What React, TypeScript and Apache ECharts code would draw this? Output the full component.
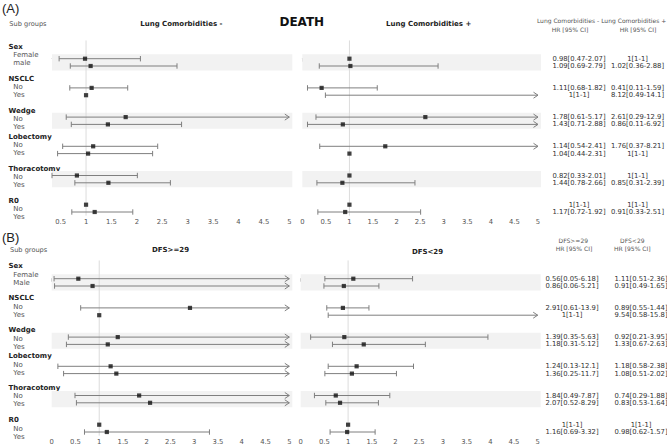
import React, { useEffect, useRef } from "react";
import * as echarts from "echarts";

// ---------- data ----------
const groups = ["Sex", "NSCLC", "Wedge", "Lobectomy", "Thoracotomy", "R0"];
const subLabelsA = ["Female", "male", "No", "Yes", "No", "Yes", "No", "Yes", "No", "Yes", "No", "Yes"];
const subLabelsB = ["Female", "Male", "No", "Yes", "No", "Yes", "No", "Yes", "No", "Yes", "No", "Yes"];
const shadedGroups = [0, 2, 4];

const lcMinusHR = [0.98, 1.09, 1.11, 1, 1.78, 1.43, 1.14, 1.04, 0.82, 1.44, 1, 1.17];
const lcMinusLo = [0.47, 0.69, 0.68, 1, 0.61, 0.71, 0.54, 0.44, 0.33, 0.78, 1, 0.72];
const lcMinusHi = [2.07, 2.79, 1.82, 1, 5.17, 2.88, 2.41, 2.31, 2.01, 2.66, 1, 1.92];

const lcPlusHR = [1, 1.02, 0.41, 8.12, 2.61, 0.86, 1.76, 1, 1, 0.85, 1, 0.91];
const lcPlusLo = [1, 0.36, 0.11, 0.49, 0.29, 0.11, 0.37, 1, 1, 0.31, 1, 0.33];
const lcPlusHi = [1, 2.88, 1.59, 14.1, 12.9, 6.92, 8.21, 1, 1, 2.39, 1, 2.51];

const dfsHighHR = [0.56, 0.86, 2.91, 1, 1.39, 1.18, 1.24, 1.36, 1.84, 2.07, 1, 1.16];
const dfsHighLo = [0.05, 0.06, 0.61, 1, 0.35, 0.31, 0.13, 0.25, 0.49, 0.52, 1, 0.69];
const dfsHighHi = [6.18, 5.21, 13.9, 1, 5.63, 5.12, 12.1, 11.7, 7.87, 8.29, 1, 3.32];

const dfsLowHR = [1.11, 0.91, 0.89, 9.54, 0.92, 1.33, 1.18, 1.08, 0.74, 0.83, 1, 0.98];
const dfsLowLo = [0.51, 0.49, 0.55, 0.58, 0.21, 0.67, 0.58, 0.51, 0.29, 0.53, 1, 0.62];
const dfsLowHi = [2.36, 1.65, 1.44, 15.8, 3.95, 2.63, 2.38, 2.02, 1.88, 1.64, 1, 1.57];

const tickValuesA = [0.5, 1, 1.5, 2, 2.5, 3, 3.5, 4, 4.5, 5];

// ---------- layout ----------
const FONT = "DejaVu Sans";
const X_MAX = 5;
const Y_MIN = -2.5;
const Y_MAX = 21.5;
const rowY = (i: number) => Math.floor(i / 2) * 4 + (i % 2);
const headerYA = [47, 79, 111, 137, 168.7, 201];
const panelBOffset = 219.4;

type Panel = {
  hr: number[]; lo: number[]; hi: number[];
  left: number; width: number; top: number; xMin: number;
  custom: boolean; colX: number;
};

const panels: Panel[] = [
  { hr: lcMinusHR, lo: lcMinusLo, hi: lcMinusHi, left: 52, width: 237.3, top: 40.45, xMin: 0.33, custom: true, colX: 579 },
  { hr: lcPlusHR, lo: lcPlusLo, hi: lcPlusHi, left: 302.3, width: 235.7, top: 40.45, xMin: 0, custom: false, colX: 637.5 },
  { hr: dfsHighHR, lo: dfsHighLo, hi: dfsHighHi, left: 51.7, width: 237.6, top: 260.45, xMin: 0, custom: false, colX: 572 },
  { hr: dfsLowHR, lo: dfsLowLo, hi: dfsLowHi, left: 300.7, width: 237, top: 260.45, xMin: 0, custom: false, colX: 641 },
];

const GRID_H = 175.2;
const LINE = "#7f7f7f";

function buildOption() {
  const grid = panels.map((p) => ({ left: p.left, top: p.top, width: p.width, height: GRID_H, outerBoundsMode: "none" }));
  const xAxis = panels.map((p, k) => {
    const ax: any = {
      type: "value", gridIndex: k, min: p.xMin, max: X_MAX,
      splitLine: { show: false },
      axisLine: { show: true, lineStyle: { color: "#c8c8c8", width: 1 } },
      axisTick: { show: true, length: 3, lineStyle: { color: "#c8c8c8" } },
      axisLabel: { fontSize: 6.8, color: "#555", margin: 3, fontFamily: FONT },
    };
    if (p.custom) {
      ax.axisLabel.customValues = tickValuesA;
      ax.axisTick.customValues = tickValuesA;
    } else {
      ax.interval = 0.5;
    }
    return ax;
  });
  const yAxis = panels.map((p, k) => ({ type: "value", gridIndex: k, min: Y_MIN, max: Y_MAX, inverse: true, show: false }));

  const series: any[] = [];
  panels.forEach((p, k) => {
    // shaded bands
    series.push({
      type: "custom", xAxisIndex: k, yAxisIndex: k, z: 1, silent: true,
      data: shadedGroups.map((g) => [p.xMin, g * 4]),
      encode: { x: 0, y: 1 },
      renderItem: (params: any, api: any) => {
        const v = api.value(1);
        const a = api.coord([p.xMin, v - 0.6]);
        const b = api.coord([X_MAX, v + 1.6]);
        return { type: "rect", shape: { x: a[0], y: a[1], width: b[0] + 3 - a[0], height: b[1] - a[1] }, style: { fill: "#f2f2f2" } };
      },
    });
    // reference line at 1
    series.push({
      type: "custom", xAxisIndex: k, yAxisIndex: k, z: 2, silent: true,
      data: [[1, Y_MIN]],
      encode: { x: 0, y: 1 },
      renderItem: (params: any, api: any) => {
        const a = api.coord([1, Y_MIN]);
        const b = api.coord([1, Y_MAX]);
        return { type: "line", shape: { x1: a[0], y1: a[1], x2: b[0], y2: b[1] }, style: { stroke: "#dcdcdc", lineWidth: 1 } };
      },
    });
    // CI bars
    series.push({
      type: "custom", xAxisIndex: k, yAxisIndex: k, z: 3, silent: true,
      data: p.lo.map((l, i) => [l, p.hi[i], rowY(i)]),
      encode: { x: [0, 1], y: 2 },
      renderItem: (params: any, api: any) => {
        const l = api.value(0), h = api.value(1), y = api.value(2);
        if (l === h) return { type: "group", children: [] };
        const a = api.coord([Math.max(l, p.xMin), y]);
        const b = api.coord([Math.min(h, X_MAX), y]);
        const st = { stroke: LINE, lineWidth: 1, fill: "none" };
        const children: any[] = [
          { type: "line", shape: { x1: a[0], y1: a[1], x2: b[0], y2: b[1] }, style: st },
          { type: "line", shape: { x1: a[0], y1: a[1] - 2.7, x2: a[0], y2: a[1] + 2.7 }, style: st },
        ];
        if (h > X_MAX) {
          children.push({ type: "polyline", shape: { points: [[b[0] - 4.5, b[1] - 3], [b[0], b[1]], [b[0] - 4.5, b[1] + 3]] }, style: st });
        } else {
          children.push({ type: "line", shape: { x1: b[0], y1: b[1] - 2.7, x2: b[0], y2: b[1] + 2.7 }, style: st });
        }
        return { type: "group", children };
      },
    });
    // HR points
    series.push({
      type: "scatter", xAxisIndex: k, yAxisIndex: k, z: 4, silent: true, clip: true,
      symbol: "rect", symbolSize: 4.2,
      itemStyle: { color: "#111" },
      data: p.hr.map((v, i) => [v, rowY(i)]),
    });
    // table text
    series.push({
      type: "custom", xAxisIndex: k, yAxisIndex: k, z: 5, silent: true, clip: false,
      data: p.hr.map((v, i) => [p.xMin, rowY(i)]),
      encode: { x: 0, y: 1 },
      renderItem: (params: any, api: any) => {
        const i = params.dataIndex;
        const y = api.coord([p.xMin, api.value(1)])[1];
        return {
          type: "text", x: p.colX, y,
          style: { text: `${p.hr[i]}[${p.lo[i]}-${p.hi[i]}]`, align: "center", verticalAlign: "middle", fontSize: 6.8, fill: "#333", fontFamily: FONT },
        };
      },
    });
  });

  const graphic: any[] = [];
  const txt = (text: string, x: number, y: number, o: any = {}) => ({
    type: "text", x, y, silent: true,
    style: { text, fontSize: 7, fill: "#555", fontFamily: FONT, verticalAlign: "middle", align: "left", ...o },
  });
  [0, 1].forEach((pi) => {
    const off = pi === 0 ? 0 : panelBOffset;
    const subs = pi === 0 ? subLabelsA : subLabelsB;
    groups.forEach((g, gi) => {
      const hy = headerYA[gi] + off;
      graphic.push(txt(g, 8.5, hy, { fill: "#222", fontWeight: "bold" }));
      graphic.push(txt(subs[gi * 2], 13.3, hy + 8.3));
      graphic.push(txt(subs[gi * 2 + 1], 13.3, hy + 16.1));
    });
  });
  // Panel A headers
  graphic.push(txt("(A)", 2, 8.5, { fontSize: 13, fill: "#222", fontFamily: "Liberation Sans" }));
  graphic.push(txt("Sub groups", 9.3, 24, { fontSize: 6.6 }));
  graphic.push(txt("Lung Comorbidities -", 181.3, 24, { align: "center", fontWeight: "bold", fill: "#222" }));
  graphic.push(txt("DEATH", 301.8, 22.3, { align: "center", fontWeight: "bold", fill: "#111", fontSize: 12 }));
  graphic.push(txt("Lung Comorbidities +", 428.7, 24, { align: "center", fontWeight: "bold", fill: "#222" }));
  graphic.push(txt("Lung Comorbidities -", 568, 20.3, { align: "center", fontSize: 6 }));
  graphic.push(txt("Lung Comorbidities +", 633.7, 20.3, { align: "center", fontSize: 6 }));
  graphic.push(txt("HR [95% CI]", 570, 29, { align: "center", fontSize: 6 }));
  graphic.push(txt("HR [95% CI]", 638, 29, { align: "center", fontSize: 6 }));
  // Panel B headers
  graphic.push(txt("(B)", 2, 237.3, { fontSize: 13, fill: "#222", fontFamily: "Liberation Sans" }));
  graphic.push(txt("Sub groups", 10, 250, { fontSize: 6.6 }));
  graphic.push(txt("DFS>=29", 170.5, 250, { align: "center", fontWeight: "bold", fill: "#222" }));
  graphic.push(txt("DFS<29", 427.5, 251.7, { align: "center", fontWeight: "bold", fill: "#222" }));
  graphic.push(txt("DFS>=29", 573.3, 240, { align: "center", fontSize: 6 }));
  graphic.push(txt("DFS<29", 632.3, 240, { align: "center", fontSize: 6 }));
  graphic.push(txt("HR [95% CI]", 574, 248.3, { align: "center", fontSize: 6 }));
  graphic.push(txt("HR [95% CI]", 632.3, 248.3, { align: "center", fontSize: 6 }));

  return {
    animation: false,
    backgroundColor: "#ffffff",
    grid, xAxis, yAxis, series, graphic,
  };
}

export default function App() {
  const ref = useRef<HTMLDivElement>(null);
  useEffect(() => {
    document.body.style.margin = "0";
    if (!ref.current) return;
    const chart = echarts.init(ref.current, null, { renderer: "svg" });
    chart.setOption(buildOption() as any);
    return () => chart.dispose();
  }, []);
  return <div ref={ref} style={{ width: 667, height: 448 }} />;
}
